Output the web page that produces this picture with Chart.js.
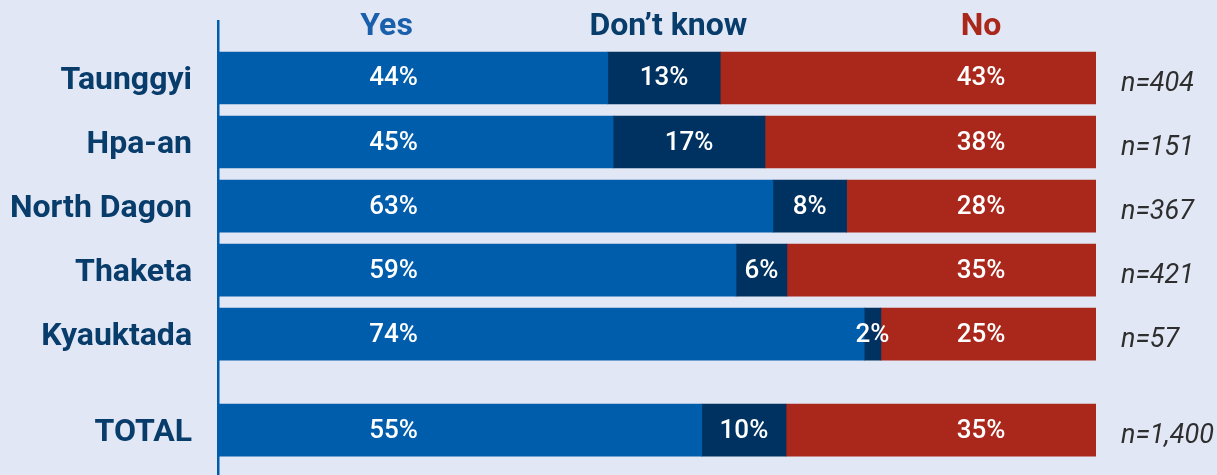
<!DOCTYPE html>
<html lang="en">
<head>
  <meta charset="UTF-8">
  <title>Yes / Don't know / No by township</title>
  <script src="https://cdn.jsdelivr.net/npm/chart.js"></script>
  <style>
    html, body {
      margin: 0;
      padding: 0;
      background: #e1e7f4;
    }
    canvas {
      display: block;
    }
  </style>
</head>
<body>
  <canvas id="chart" width="1217" height="475"></canvas>
  <script>
    // rows (TOTAL sits a half step lower than the rest)
    const rowLabels = ['Taunggyi', 'Hpa-an', 'North Dagon', 'Thaketa', 'Kyauktada', 'TOTAL'];
    const rowPos = [0, 1, 2, 3, 4, 5.5];
    const sampleSizes = ['n=404', 'n=151', 'n=367', 'n=421', 'n=57', 'n=1,400'];

    const seriesNames = ['Yes', 'Don\u2019t know', 'No'];
    const yesVals = [44.4, 45.0, 63.2, 59.0, 73.6, 55.1];
    const dkVals = [12.8, 17.3, 8.4, 5.8, 1.9, 9.6];
    const noVals = [42.8, 37.7, 28.4, 35.2, 24.5, 35.3];

    const colors = ['#005dab', '#003261', '#aa271b'];
    const headerColors = ['#1a5fac', '#083c6b', '#aa271b'];

    const toPoints = vals => vals.map((v, i) => ({ x: v, y: rowPos[i] }));

    const labelsPlugin = {
      id: 'labels',
      afterDatasetsDraw(chart) {
        const ctx = chart.ctx;
        const xs = chart.scales.x;
        const ys = chart.scales.y;
        ctx.save();

        // column headers
        const headerX = [19.2, 51.3, 86.9];
        ctx.font = 'bold 32px Roboto';
        ctx.textAlign = 'center';
        ctx.textBaseline = 'middle';
        seriesNames.forEach((name, i) => {
          ctx.fillStyle = headerColors[i];
          ctx.fillText(name, xs.getPixelForValue(headerX[i]), 27);
        });

        // values inside bars
        ctx.font = '500 26px Roboto';
        ctx.fillStyle = '#ffffff';
        chart.data.datasets.forEach((ds, di) => {
          const meta = chart.getDatasetMeta(di);
          meta.data.forEach((bar, i) => {
            let x;
            if (di === 0) x = xs.getPixelForValue(20);
            else if (di === 2) x = xs.getPixelForValue(86.9);
            else x = (bar.base + bar.x) / 2;
            ctx.fillText(Math.round(ds.data[i].x) + '%', x, bar.y + 1);
          });
        });

        // sample sizes
        ctx.font = 'italic 27px Roboto';
        ctx.fillStyle = '#2e2e2e';
        ctx.textAlign = 'left';
        sampleSizes.forEach((t, i) => {
          ctx.fillText(t, 1121, ys.getPixelForValue(rowPos[i]) + 6);
        });
        ctx.restore();
      }
    };

    new Chart(document.getElementById('chart'), {
      type: 'bar',
      data: {
        datasets: [yesVals, dkVals, noVals].map((vals, i) => ({
          label: seriesNames[i],
          data: toPoints(vals),
          backgroundColor: colors[i],
          borderWidth: 0,
          barThickness: 52
        }))
      },
      options: {
        indexAxis: 'y',
        responsive: false,
        animation: false,
        layout: { padding: { top: 21, right: 121, left: 0, bottom: 0 } },
        scales: {
          x: {
            stacked: true,
            min: 0,
            max: 100,
            display: false
          },
          y: {
            type: 'linear',
            stacked: true,
            reverse: true,
            offset: false,
            min: -0.89,
            max: 6.2,
            afterBuildTicks: s => { s.ticks = rowPos.map(v => ({ value: v })); },
            afterFit: s => {
              s.width = 218;
              s.paddingTop = 0;
              s.paddingBottom = 0;
            },
            grid: { display: false, drawTicks: false, offset: false },
            border: { display: true, color: '#005dab', width: 2.5 },
            ticks: {
              padding: 26,
              labelOffset: 3,
              color: '#083c6b',
              font: { family: 'Roboto', weight: 'bold', size: 32 },
              callback: (v, i) => rowLabels[i]
            }
          }
        },
        plugins: {
          legend: { display: false },
          tooltip: { enabled: false }
        }
      },
      plugins: [labelsPlugin]
    });
  </script>
</body>
</html>
